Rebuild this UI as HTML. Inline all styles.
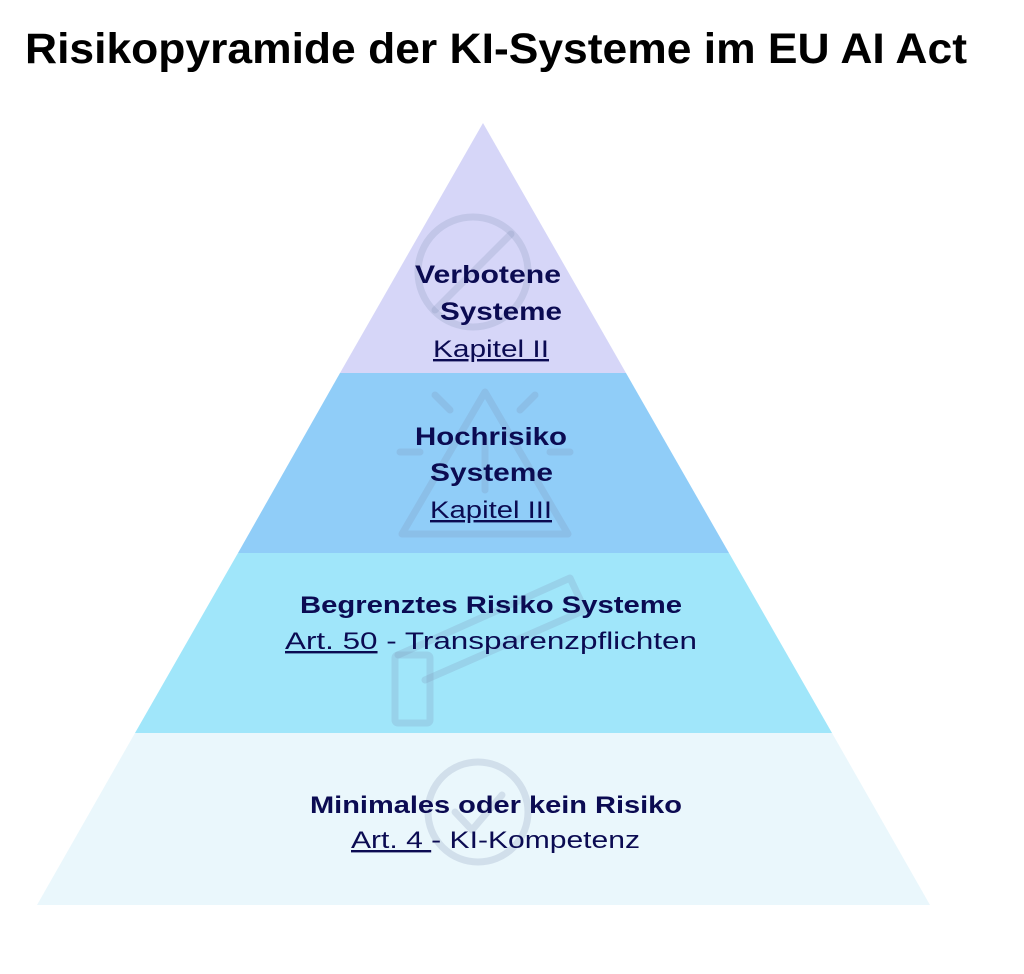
<!DOCTYPE html>
<html><head><meta charset="utf-8"><style>
html,body{margin:0;padding:0;background:#fff;}
svg{display:block;}
</style></head><body>
<svg width="1024" height="974" viewBox="0 0 1024 974" xmlns="http://www.w3.org/2000/svg">
<text x="25" y="63" font-family="Liberation Sans, sans-serif" font-weight="bold" font-size="43" fill="#000" textLength="942" lengthAdjust="spacingAndGlyphs">Risikopyramide der KI-Systeme im EU AI Act</text>

<polygon points="483,123 626,373 340,373" fill="#d6d6f8"/>
<polygon points="340,373 626,373 729,553 238,553" fill="#90cdf8"/>
<polygon points="238,553 729,553 832,733 135,733" fill="#a0e6fa"/>
<polygon points="135,733 832,733 930,905 37,905" fill="#eaf7fc"/>

<g fill="none" stroke="#7c8fb0" stroke-opacity="0.22" stroke-width="7" stroke-linecap="round" stroke-linejoin="round">
  <circle cx="473" cy="272" r="55"/>
  <line x1="511" y1="234" x2="435" y2="310"/>
  <path d="M485 392 L568 534 L402 534 Z"/>
  <line x1="485" y1="440" x2="485" y2="490"/>
  <line x1="435" y1="395" x2="450" y2="410"/>
  <line x1="535" y1="395" x2="520" y2="410"/>
  <line x1="400" y1="452" x2="420" y2="452"/>
  <line x1="550" y1="452" x2="570" y2="452"/>
  <rect x="395" y="655" width="35" height="68" rx="3"/>
  <path d="M398 655 L570 578 L585 610 L425 680"/>
  <circle cx="478" cy="812" r="50"/>
  <path d="M455 812 L472 830 L502 795"/>
</g>

<g font-family="Liberation Sans, sans-serif" fill="#0b0b52" lengthAdjust="spacingAndGlyphs">
  <text x="415" y="283" font-weight="bold" font-size="25" textLength="146" lengthAdjust="spacingAndGlyphs">Verbotene</text>
  <text x="440" y="320" font-weight="bold" font-size="25" textLength="122" lengthAdjust="spacingAndGlyphs">Systeme</text>
  <text x="433" y="357" font-size="24" text-decoration="underline" textLength="116" lengthAdjust="spacingAndGlyphs">Kapitel II</text>
  <text x="415" y="445" font-weight="bold" font-size="25" textLength="152" lengthAdjust="spacingAndGlyphs">Hochrisiko</text>
  <text x="430" y="481" font-weight="bold" font-size="25" textLength="123" lengthAdjust="spacingAndGlyphs">Systeme</text>
  <text x="430" y="518" font-size="24" text-decoration="underline" textLength="122" lengthAdjust="spacingAndGlyphs">Kapitel III</text>
  <text x="300" y="613" font-weight="bold" font-size="24" textLength="382" lengthAdjust="spacingAndGlyphs">Begrenztes Risiko Systeme</text>
  <text x="310" y="813" font-weight="bold" font-size="24" textLength="372" lengthAdjust="spacingAndGlyphs">Minimales oder kein Risiko</text>
  <text x="285" y="649" font-size="24" textLength="412" lengthAdjust="spacingAndGlyphs"><tspan text-decoration="underline">Art. 50</tspan> - Transparenzpflichten</text>
  <text x="351" y="848" font-size="24" textLength="289" lengthAdjust="spacingAndGlyphs"><tspan text-decoration="underline">Art. 4 </tspan>- KI-Kompetenz</text>
</g>
</svg>
</body></html>
